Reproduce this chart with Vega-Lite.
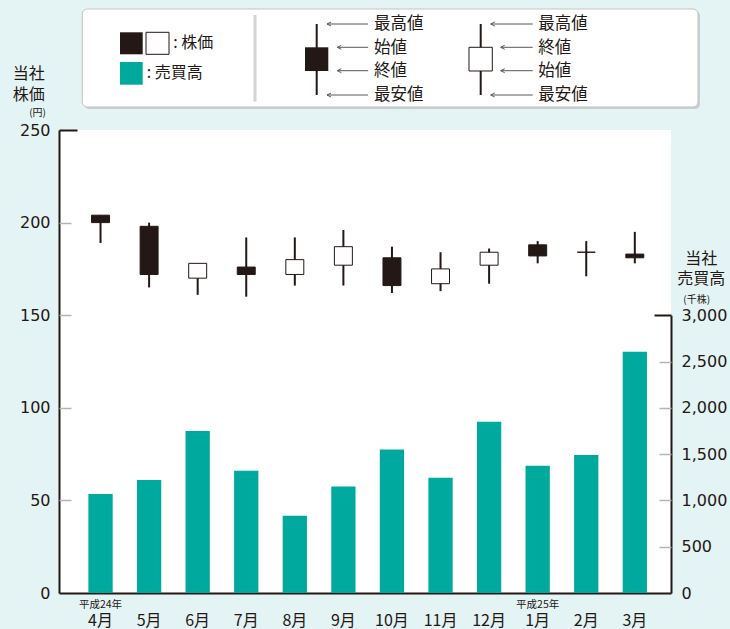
{
"$schema": "https://vega.github.io/schema/vega-lite/v6.json",
"width": 612, "height": 463,
"autosize": "none",
"padding": {"left": 59, "top": 130, "right": 59, "bottom": 36},
"background": "#e4f3f3",
"config": {"view": {"fill": "#ffffff", "stroke": null}, "text": {"font": "Noto Sans CJK JP", "color": "#231815"}},
"datasets": {
"stock": [
{"month": "4月", "open": 204, "close": 200, "high": 204, "low": 189, "volume": 1070},
{"month": "5月", "open": 198, "close": 172, "high": 200, "low": 165, "volume": 1220},
{"month": "6月", "open": 170, "close": 178, "high": 178, "low": 161, "volume": 1750},
{"month": "7月", "open": 176, "close": 172, "high": 192, "low": 160, "volume": 1320},
{"month": "8月", "open": 172, "close": 180, "high": 192, "low": 166, "volume": 835},
{"month": "9月", "open": 177, "close": 187, "high": 196, "low": 166, "volume": 1150},
{"month": "10月", "open": 181, "close": 166, "high": 187, "low": 162, "volume": 1550},
{"month": "11月", "open": 167, "close": 175, "high": 184, "low": 163, "volume": 1245},
{"month": "12月", "open": 177, "close": 184, "high": 186, "low": 167, "volume": 1850},
{"month": "1月", "open": 188, "close": 182, "high": 190, "low": 178, "volume": 1375},
{"month": "2月", "open": 184, "close": 184, "high": 190, "low": 171, "volume": 1490},
{"month": "3月", "open": 183, "close": 181, "high": 195, "low": 178, "volume": 2605}
]
},
"layer": [
{
"encoding": {
"x": {"field": "month", "type": "ordinal", "sort": null,
"scale": {"domain": ["4月","5月","6月","7月","8月","9月","10月","11月","12月","1月","2月","3月"], "paddingInner": 0.5, "paddingOuter": 0.55, "align": 0.55},
"axis": {"orient": "bottom", "title": null, "labelAngle": 0, "ticks": false, "domainColor": "#231815", "domainWidth": 2, "labelFont": "Noto Sans CJK JP", "labelFontSize": 16, "labelColor": "#231815", "labelPadding": 19}}
},
"layer": [
{"data": {"name": "stock"},
"mark": {"type": "bar", "color": "#00a99d"},
"encoding": {
"y": {"field": "volume", "type": "quantitative",
"scale": {"domain": [0, 3000], "nice": false, "range": [463, 185.2]},
"axis": {"orient": "right", "title": null, "values": [0,500,1000,1500,2000,2500,3000], "format": ",d", "grid": false, "domainColor": "#231815", "domainWidth": 2,
"ticks": false, "labelPadding": 10, "labelFont": "DejaVu Sans", "labelFontSize": 16, "labelColor": "#231815"}}}},
{"data": {"values": [{"month": "4月", "era": "平成24年"}, {"month": "1月", "era": "平成25年"}]},
"mark": {"type": "text", "dy": 12, "fontSize": 10.5, "baseline": "middle"},
"encoding": {
"y": {"datum": 0, "type": "quantitative",
"axis": {"orient": "left", "offset": -612, "title": null, "values": [500,1000,1500,2000,2500,3000], "grid": false, "domain": false, "labels": false,
"ticks": true, "tickSize": {"condition": {"test": "datum.value === 3000", "value": 17}, "value": 12},
"tickWidth": {"condition": {"test": "datum.value === 3000", "value": 2}, "value": 1.5},
"tickColor": {"condition": {"test": "datum.value === 3000", "value": "#231815"}, "value": "#b5b5b5"}}},
"text": {"field": "era"}}}
]
},
{
"data": {"name": "stock"},
"encoding": {
"x": {"field": "month", "type": "ordinal", "sort": null,
"scale": {"domain": ["4月","5月","6月","7月","8月","9月","10月","11月","12月","1月","2月","3月"], "paddingInner": 0.5, "paddingOuter": 0.55, "align": 0.55},
"axis": null}
},
"layer": [
{"mark": {"type": "rule", "color": "#231815", "strokeWidth": 2},
"encoding": {
"y": {"field": "low", "type": "quantitative", "scale": {"domain": [0, 250], "nice": false},
"axis": {"orient": "left", "title": null, "values": [0,50,100,150,200,250], "grid": false, "domainColor": "#231815", "domainWidth": 2,
"ticks": false, "labelPadding": 9, "labelFont": "DejaVu Sans", "labelFontSize": 16, "labelColor": "#231815"}},
"y2": {"field": "high"}}},
{"mark": {"type": "bar", "width": {"band": 0.74}, "stroke": "#231815", "strokeWidth": 1},
"encoding": {
"y": {"field": "open", "type": "quantitative",
"axis": {"orient": "right", "offset": -612, "title": null, "values": [50,100,150,200,250], "grid": false, "domain": false, "labels": false,
"ticks": true, "tickSize": {"condition": {"test": "datum.value === 250", "value": 18}, "value": 12},
"tickWidth": {"condition": {"test": "datum.value === 250", "value": 2}, "value": 1.5},
"tickColor": {"condition": {"test": "datum.value === 250", "value": "#231815"}, "value": "#b5b5b5"}}},
"y2": {"field": "close"},
"fill": {"condition": {"test": "datum.open > datum.close", "value": "#231815"}, "value": "#ffffff"}}}
]
},
{
"data": {"values": [{}]},
"layer": [
{"mark": {"type": "rect", "fill": "#b0b0b0", "opacity": 0.55, "cornerRadius": 5},
"encoding": {"x": {"datum": 4.13, "type": "quantitative", "scale": {"domain": [0,100], "nice": false, "zero": false}, "axis": null}, "x2": {"datum": 104.74},
"y": {"datum": 125.70, "type": "quantitative", "scale": {"domain": [0,100], "nice": false, "zero": false}, "axis": null}, "y2": {"datum": 104.54}}},
{"mark": {"type": "rect", "fill": "#ffffff", "stroke": "#c4c4c4", "strokeWidth": 1, "cornerRadius": 5},
"encoding": {"x": {"datum": 3.807, "type": "quantitative", "axis": null}, "x2": {"datum": 104.412},
"y": {"datum": 126.134, "type": "quantitative", "axis": null}, "y2": {"datum": 104.968}}},
{"mark": {"type": "rule", "color": "#d4d4d4", "strokeWidth": 3},
"encoding": {"x": {"datum": 32.026, "type": "quantitative", "axis": null},
"y": {"datum": 124.838, "type": "quantitative", "axis": null}, "y2": {"datum": 106.112}}},
{"mark": {"type": "rect", "fill": "#231815"},
"encoding": {"x": {"datum": 9.967, "type": "quantitative", "axis": null}, "x2": {"datum": 13.676},
"y": {"datum": 121.102, "type": "quantitative", "axis": null}, "y2": {"datum": 116.350}}},
{"mark": {"type": "rect", "fill": "#ffffff", "stroke": "#231815", "strokeWidth": 1},
"encoding": {"x": {"datum": 14.216, "type": "quantitative", "axis": null}, "x2": {"datum": 17.974},
"y": {"datum": 121.102, "type": "quantitative", "axis": null}, "y2": {"datum": 116.350}}},
{"mark": {"type": "rect", "fill": "#00a99d"},
"encoding": {"x": {"datum": 9.967, "type": "quantitative", "axis": null}, "x2": {"datum": 13.676},
"y": {"datum": 114.687, "type": "quantitative", "axis": null}, "y2": {"datum": 109.784}}},
{"mark": {"type": "text", "text": ": 株価", "align": "left", "baseline": "middle", "fontSize": 16},
"encoding": {"x": {"datum": 18.676, "type": "quantitative", "axis": null}, "y": {"datum": 118.726, "type": "quantitative", "axis": null}}},
{"mark": {"type": "text", "text": ": 売買高", "align": "left", "baseline": "middle", "fontSize": 16},
"encoding": {"x": {"datum": 14.330, "type": "quantitative", "axis": null}, "y": {"datum": 112.246, "type": "quantitative", "axis": null}}},
{"mark": {"type": "rule", "color": "#231815", "strokeWidth": 2},
"encoding": {"x": {"datum": 42.108, "type": "quantitative", "axis": null},
"y": {"datum": 122.894, "type": "quantitative", "axis": null}, "y2": {"datum": 107.559}}},
{"mark": {"type": "rect", "fill": "#231815"},
"encoding": {"x": {"datum": 40.196, "type": "quantitative", "axis": null}, "x2": {"datum": 44.003},
"y": {"datum": 117.862, "type": "quantitative", "axis": null}, "y2": {"datum": 112.743}}},
{"mark": {"type": "rule", "color": "#231815", "strokeWidth": 2},
"encoding": {"x": {"datum": 68.905, "type": "quantitative", "axis": null},
"y": {"datum": 122.894, "type": "quantitative", "axis": null}, "y2": {"datum": 107.559}}},
{"mark": {"type": "rect", "fill": "#ffffff", "stroke": "#231815", "strokeWidth": 1},
"encoding": {"x": {"datum": 66.993, "type": "quantitative", "axis": null}, "x2": {"datum": 70.801},
"y": {"datum": 117.862, "type": "quantitative", "axis": null}, "y2": {"datum": 112.743}}},
{"mark": {"type": "point", "shape": "M0,0H20.5M0,0L2,-1M0,0L2,1", "size": 16, "filled": false, "color": "#595757", "strokeWidth": 1, "opacity": 1},
"encoding": {"x": {"datum": 43.791, "type": "quantitative", "axis": null}, "y": {"datum": 122.894, "type": "quantitative", "axis": null}}},
{"mark": {"type": "point", "shape": "M0,0H15.4M0,0L2,-1M0,0L2,1", "size": 16, "filled": false, "color": "#595757", "strokeWidth": 1, "opacity": 1},
"encoding": {"x": {"datum": 45.474, "type": "quantitative", "axis": null}, "y": {"datum": 117.862, "type": "quantitative", "axis": null}}},
{"mark": {"type": "point", "shape": "M0,0H15.4M0,0L2,-1M0,0L2,1", "size": 16, "filled": false, "color": "#595757", "strokeWidth": 1, "opacity": 1},
"encoding": {"x": {"datum": 45.474, "type": "quantitative", "axis": null}, "y": {"datum": 112.808, "type": "quantitative", "axis": null}}},
{"mark": {"type": "point", "shape": "M0,0H20.5M0,0L2,-1M0,0L2,1", "size": 16, "filled": false, "color": "#595757", "strokeWidth": 1, "opacity": 1},
"encoding": {"x": {"datum": 43.791, "type": "quantitative", "axis": null}, "y": {"datum": 107.559, "type": "quantitative", "axis": null}}},
{"mark": {"type": "point", "shape": "M0,0H21M0,0L2,-1M0,0L2,1", "size": 16, "filled": false, "color": "#595757", "strokeWidth": 1, "opacity": 1},
"encoding": {"x": {"datum": 70.539, "type": "quantitative", "axis": null}, "y": {"datum": 122.894, "type": "quantitative", "axis": null}}},
{"mark": {"type": "point", "shape": "M0,0H16M0,0L2,-1M0,0L2,1", "size": 16, "filled": false, "color": "#595757", "strokeWidth": 1, "opacity": 1},
"encoding": {"x": {"datum": 72.173, "type": "quantitative", "axis": null}, "y": {"datum": 117.862, "type": "quantitative", "axis": null}}},
{"mark": {"type": "point", "shape": "M0,0H16M0,0L2,-1M0,0L2,1", "size": 16, "filled": false, "color": "#595757", "strokeWidth": 1, "opacity": 1},
"encoding": {"x": {"datum": 72.173, "type": "quantitative", "axis": null}, "y": {"datum": 112.808, "type": "quantitative", "axis": null}}},
{"mark": {"type": "point", "shape": "M0,0H21M0,0L2,-1M0,0L2,1", "size": 16, "filled": false, "color": "#595757", "strokeWidth": 1, "opacity": 1},
"encoding": {"x": {"datum": 70.539, "type": "quantitative", "axis": null}, "y": {"datum": 107.559, "type": "quantitative", "axis": null}}},
{"mark": {"type": "text", "text": ["最高値", "始値", "終値", "最安値"], "align": "left", "baseline": "middle", "fontSize": 16.5, "lineHeight": 23.6},
"encoding": {"x": {"datum": 51.471, "type": "quantitative", "axis": null}, "y": {"datum": 122.894, "type": "quantitative", "axis": null}}},
{"mark": {"type": "text", "text": ["最高値", "終値", "始値", "最安値"], "align": "left", "baseline": "middle", "fontSize": 16.5, "lineHeight": 23.6},
"encoding": {"x": {"datum": 78.317, "type": "quantitative", "axis": null}, "y": {"datum": 122.894, "type": "quantitative", "axis": null}}},
{"mark": {"type": "text", "text": ["当社", "株価"], "align": "center", "baseline": "middle", "fontSize": 16, "lineHeight": 21},
"encoding": {"x": {"datum": -4.935, "type": "quantitative", "axis": null}, "y": {"datum": 112.05, "type": "quantitative", "axis": null}}},
{"mark": {"type": "text", "text": "(円)", "align": "center", "baseline": "middle", "fontSize": 10},
"encoding": {"x": {"datum": -3.513, "type": "quantitative", "axis": null}, "y": {"datum": 103.607, "type": "quantitative", "axis": null}}},
{"mark": {"type": "text", "text": ["当社", "売買高"], "align": "center", "baseline": "middle", "fontSize": 16, "lineHeight": 20},
"encoding": {"x": {"datum": 104.95, "type": "quantitative", "axis": null}, "y": {"datum": 72.095, "type": "quantitative", "axis": null}}},
{"mark": {"type": "text", "text": "(千株)", "align": "center", "baseline": "middle", "fontSize": 10},
"encoding": {"x": {"datum": 104.199, "type": "quantitative", "axis": null}, "y": {"datum": 63.3, "type": "quantitative", "axis": null}}}
]
}
],
"resolve": {"scale": {"x": "independent", "y": "independent"}, "axis": {"x": "independent", "y": "independent"}}
}
